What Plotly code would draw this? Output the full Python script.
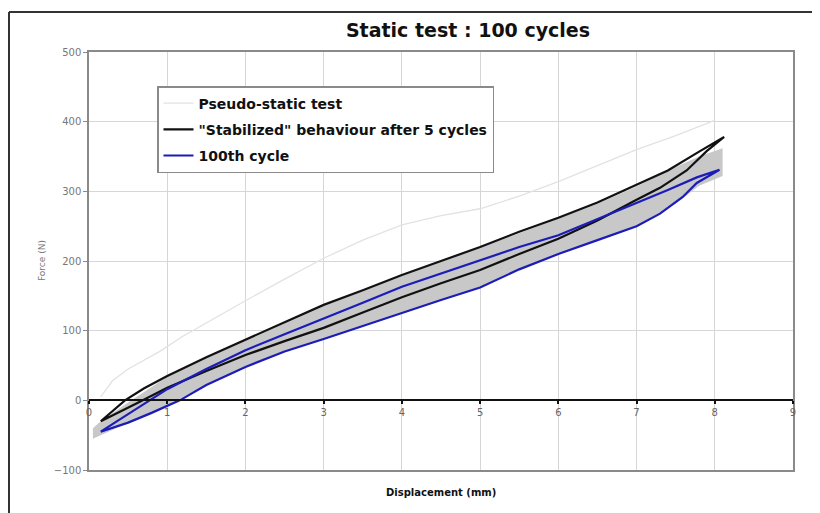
import plotly.graph_objects as go

# ---- data ----
x_ticks = [0, 1, 2, 3, 4, 5, 6, 7, 8, 9]
x_tick_labels = ["0", "1", "2", "3", "4", "5", "6", "7", "8", "9"]
y_ticks = [-100, 0, 100, 200, 300, 400, 500]

# Pseudo-static test
ps_x = [0.15, 0.30, 0.50, 0.90, 1.20, 1.60, 2.00, 2.50, 3.00, 3.50, 4.00, 4.50,
        5.00, 5.50, 6.00, 6.50, 7.00, 7.50, 7.90, 8.00]
ps_y = [5, 28, 45, 70, 92, 118, 143, 174, 204, 230, 252, 265, 275, 293, 314, 337,
        360, 380, 397, 402]

# "Stabilized" behaviour after 5 cycles (loading branch then unloading branch)
stab_up_x = [0.15, 0.30, 0.46, 0.70, 1.00, 1.50, 2.00, 2.50, 3.00, 3.50, 4.00, 4.50,
             5.00, 5.50, 6.00, 6.50, 7.00, 7.40, 7.80, 8.12]
stab_up_y = [-30, -15, 0, 17, 35, 62, 87, 112, 137, 158, 180, 200, 220, 242, 262,
             284, 310, 330, 357, 378]
stab_dn_x = [7.90, 7.64, 7.30, 7.00, 6.50, 6.00, 5.50, 5.00, 4.50, 4.00, 3.50, 3.00,
             2.50, 2.00, 1.50, 1.00, 0.60, 0.30, 0.15]
stab_dn_y = [358, 330, 305, 288, 258, 232, 210, 187, 168, 148, 126, 104, 85, 65,
             42, 18, -5, -22, -30]

# 100th cycle
c100_up_x = [0.15, 0.50, 1.00, 1.50, 2.00, 2.50, 3.00, 3.50, 4.00, 4.50, 5.00, 5.50,
             6.00, 6.50, 7.00, 7.40, 7.77, 8.06]
c100_up_y = [-45, -20, 16, 45, 72, 95, 117, 140, 163, 182, 201, 220, 237, 260, 284,
             302, 320, 331]
c100_dn_x = [7.77, 7.59, 7.30, 7.00, 6.50, 6.00, 5.50, 5.00, 4.50, 4.00, 3.50, 3.00,
             2.50, 2.00, 1.50, 1.16, 0.80, 0.50, 0.15]
c100_dn_y = [312, 292, 268, 250, 230, 210, 188, 162, 144, 125, 106, 88, 70, 48, 22,
             0, -18, -32, -45]

# envelope of the intermediate cycles (grey band)
band_x = [0.05, 0.15, 0.50, 1.00, 1.50, 2.00, 2.50, 3.00, 3.50, 4.00, 4.50, 5.00,
          5.50, 6.00, 6.50, 7.00, 7.50, 7.80, 8.10]
band_top = [-40, -30, -3, 34, 61, 86, 111, 135, 157, 179, 199, 219, 240, 261, 282,
            307, 335, 350, 362]
band_bot = [-55, -50, -32, -7, 22, 48, 70, 88, 106, 125, 144, 162, 188, 210, 230,
            250, 282, 308, 322]

FONT = "DejaVu Sans"
OFF = 8  # page body margin in the browser
W, H = 820 - OFF, 513 - OFF
L, T, R, B = 89 - OFF, 52 - OFF, 27, 43
PW, PH = 820 - 89 - R, 513 - 52 - B  # plot area in pixels (704 x 418)

fig = go.Figure()

fig.add_trace(go.Scatter(x=band_x, y=band_bot, mode="lines", line=dict(width=0),
                         showlegend=False, hoverinfo="skip"))
fig.add_trace(go.Scatter(x=band_x, y=band_top, mode="lines", line=dict(width=0),
                         fill="tonexty", fillcolor="#c8c8c8",
                         showlegend=False, hoverinfo="skip"))

fig.add_trace(go.Scatter(x=ps_x, y=ps_y, mode="lines", name="Pseudo-static test",
                         line=dict(color="#e2e2e2", width=1.3),
                         legendgroup="a"))
fig.add_trace(go.Scatter(x=stab_up_x + stab_dn_x, y=stab_up_y + stab_dn_y,
                         mode="lines", name='"Stabilized" behaviour after 5 cycles',
                         line=dict(color="#111111", width=2.2), legendgroup="b"))
fig.add_trace(go.Scatter(x=c100_up_x + c100_dn_x, y=c100_up_y + c100_dn_y,
                         mode="lines", name="100th cycle",
                         line=dict(color="#1c1cb8", width=2.2), legendgroup="c"))

# axis drawn at y = 0 (Excel style category axis crossing)
fig.add_trace(go.Scatter(x=x_ticks, y=[None] * len(x_ticks), xaxis="x2",
                         mode="markers", showlegend=False, hoverinfo="skip"))

fig.update_layout(
    width=W, height=H,
    margin=dict(l=L, r=R, t=T, b=B),
    paper_bgcolor="white", plot_bgcolor="white",
    font=dict(family=FONT, color="#555555"),
    title=dict(text="<b>Static test : 100 cycles</b>", x=(468 - OFF) / W,
               xanchor="center", y=1 - (30 - OFF) / H, yanchor="middle",
               xref="container", yref="container",
               font=dict(size=19, color="#111111", family=FONT)),
    xaxis=dict(range=[0, 9], tickvals=x_ticks, showticklabels=False, ticks="",
               showgrid=True, gridcolor="#d6d6d6", gridwidth=1,
               showline=True, linecolor="#8a8a8a", linewidth=1.5, mirror=True,
               zeroline=False, fixedrange=True),
    xaxis2=dict(range=[0, 9], overlaying="x", anchor="free", position=1 / 6,
                side="bottom", tickvals=x_ticks, ticktext=x_tick_labels,
                showgrid=False, zeroline=False, showline=True, linecolor="#111111",
                linewidth=2, ticks="outside", ticklen=3, tickcolor="#111111",
                tickwidth=1.5, tickfont=dict(size=10, color="#666666"),
                fixedrange=True),
    yaxis=dict(range=[-100, 500], tickvals=y_ticks, ticks="outside", ticklen=4,
               tickcolor="#8a8a8a", tickfont=dict(size=10, color="#777777"),
               showgrid=True, gridcolor="#d6d6d6", gridwidth=1,
               showline=True, linecolor="#8a8a8a", linewidth=1.5, mirror=True,
               zeroline=False, fixedrange=True),
    legend=dict(x=(157 - 89) / PW, y=(470 - 86) / PH, xanchor="left", yanchor="top",
                bgcolor="white", bordercolor="#8a8a8a", borderwidth=1.5,
                font=dict(size=14, color="#111111", family=FONT, weight="bold"),
                traceorder="grouped", tracegroupgap=5, itemwidth=30),
    showlegend=True,
    annotations=[
        dict(text="<b>Displacement (mm)</b>", xref="paper", yref="paper",
             x=0.5, y=-(492 - 470) / PH, xanchor="center", yanchor="middle",
             showarrow=False, font=dict(size=10, color="#111111", family=FONT)),
        dict(text="Force (N)", xref="paper", yref="paper", textangle=-90,
             x=-(89 - 42) / PW, y=0.5, xanchor="center", yanchor="middle",
             showarrow=False, font=dict(size=9, color="#777777", family=FONT)),
    ],
    shapes=[
        dict(type="line", xref="paper", yref="paper",
             x0=-(89 - 9) / PW, x1=-(89 - 9) / PW,
             y0=-(513 - 470) / PH, y1=(470 - 12) / PH,
             line=dict(color="#333333", width=2)),
        dict(type="line", xref="paper", yref="paper",
             x0=-(89 - 9) / PW, x1=(820 - 89) / PW,
             y0=(470 - 12) / PH, y1=(470 - 12) / PH,
             line=dict(color="#333333", width=2)),
    ],
)

fig.write_html("out.html")
